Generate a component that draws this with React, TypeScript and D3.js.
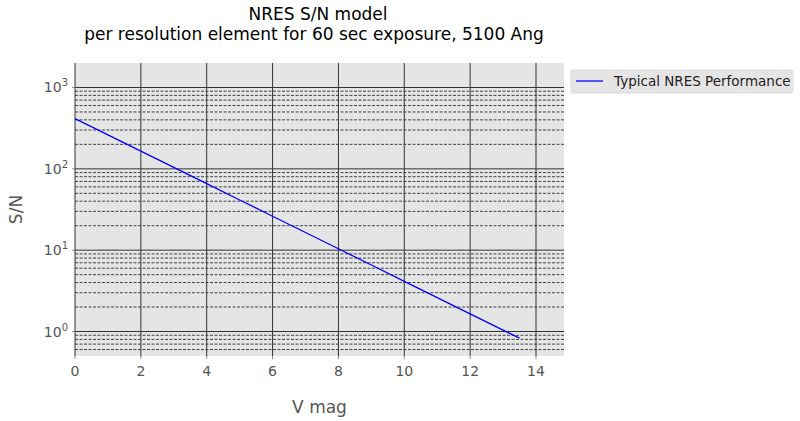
import React from "react";
import * as d3 from "d3";

const vmag = [0, 1, 2, 3, 4, 5, 6, 7, 8, 9, 10, 11, 12, 13, 13.5];
const snr = [414, 261, 165, 104, 65.7, 41.4, 26.1, 16.5, 10.4, 6.57, 4.14, 2.61, 1.65, 1.04, 0.83];
const xTicks = [0, 2, 4, 6, 8, 10, 12, 14];
const yMajor = [1, 10, 100, 1000];
const yExps = ["0", "1", "2", "3"];
const seriesName = "Typical NRES Performance";

const W = 800, H = 421;
const M = { left: 75, right: 564, top: 63, bottom: 356 };
const FONT = "DejaVu Sans, sans-serif";

export default function App() {
  const x = d3.scaleLinear().domain([0, 14.85]).range([M.left, M.right]);
  const y = d3.scaleLog().domain([0.5, 2000]).range([M.bottom, M.top]);
  const minor: number[] = [];
  [0.1, 1, 10, 100, 1000].forEach((d) => {
    for (let k = 2; k <= 9; k++) {
      const v = d * k;
      if (v > 0.5 && v < 2000 && !yMajor.includes(v)) minor.push(v);
    }
  });
  const line = d3
    .line<number>()
    .x((_, i) => x(vmag[i]))
    .y((d) => y(d));
  return (
    <svg width={W} height={H} style={{ position: "absolute", left: 0, top: 0 }} fontFamily={FONT}>
      <rect x={0} y={0} width={W} height={H} fill="#fff" />
      <rect x={M.left} y={M.top} width={M.right - M.left} height={M.bottom - M.top} fill="#e5e5e5" />
      {minor.map((v) => (
        <line key={"m" + v} x1={M.left} x2={M.right} y1={y(v)} y2={y(v)} stroke="#444" strokeWidth={1} strokeDasharray="3,1.5" />
      ))}
      {yMajor.map((v) => (
        <line key={"M" + v} x1={M.left} x2={M.right} y1={y(v)} y2={y(v)} stroke="#333" strokeWidth={1} />
      ))}
      {xTicks.map((v) => (
        <line key={"x" + v} x1={x(v)} x2={x(v)} y1={M.top} y2={M.bottom} stroke="#333" strokeWidth={1} />
      ))}
      {xTicks.map((v) => (
        <g key={"xt" + v}>
          <line x1={x(v)} x2={x(v)} y1={M.bottom} y2={M.bottom + 3} stroke="#888" />
          <text x={x(v)} y={M.bottom + 20} textAnchor="middle" fontSize={14} fill="#555">
            {v}
          </text>
        </g>
      ))}
      {yMajor.map((v, i) => (
        <g key={"yt" + v}>
          <line x1={M.left - 3} x2={M.left} y1={y(v)} y2={y(v)} stroke="#888" />
          <text x={M.left - 7} y={y(v) + 5} textAnchor="end" fontSize={14} fill="#555">
            10
            <tspan dy={-6} fontSize={10}>
              {yExps[i]}
            </tspan>
          </text>
        </g>
      ))}
      <path d={line(snr) || ""} fill="none" stroke="#0000ff" strokeWidth={1.3} />
      <text x={318} y={20} textAnchor="middle" fontSize={17} fill="#000">
        NRES S/N model
      </text>
      <text x={314} y={40} textAnchor="middle" fontSize={17} fill="#000">
        per resolution element for 60 sec exposure, 5100 Ang
      </text>
      <text x={(M.left + M.right) / 2} y={413} textAnchor="middle" fontSize={17} fill="#555">
        V mag
      </text>
      <text transform={`translate(22,${(M.top + M.bottom) / 2}) rotate(-90)`} textAnchor="middle" fontSize={17} fill="#555">
        S/N
      </text>
      <rect x={571} y={70} width={222} height={23} rx={2} fill="#e5e5e5" stroke="#ddd" />
      <line x1={576} x2={603} y1={81} y2={81} stroke="#0000ff" strokeWidth={1.3} />
      <text x={614} y={86} fontSize={13.5} fill="#222">
        {seriesName}
      </text>
    </svg>
  );
}
